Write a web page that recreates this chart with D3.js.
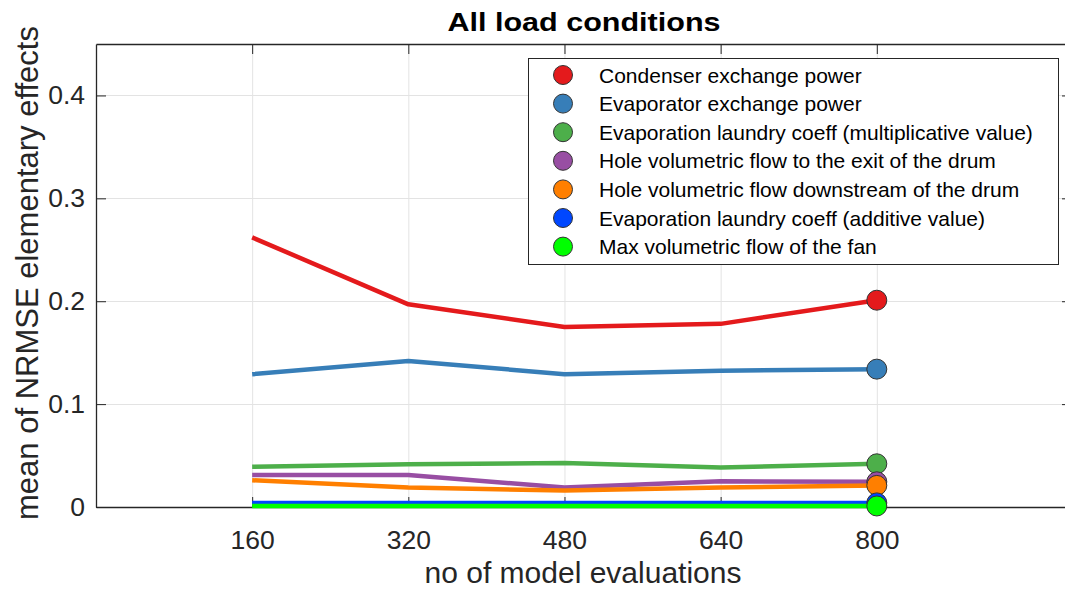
<!DOCTYPE html>
<html>
<head>
<meta charset="utf-8">
<script src="https://cdn.jsdelivr.net/npm/d3@7"></script>
<style>
  html, body { margin: 0; padding: 0; background: #fff; overflow: hidden; }
  svg { display: block; font-family: "Liberation Sans", Arial, sans-serif; }
</style>
</head>
<body>
<svg id="chart" width="1065" height="590"></svg>
<script>
// Number of model evaluations (x positions)
const evaluations = [160, 320, 480, 640, 800];

// Series names (legend order)
const seriesNames = [
  "Condenser exchange power",
  "Evaporator exchange power",
  "Evaporation laundry coeff (multiplicative value)",
  "Hole volumetric flow to the exit of the drum",
  "Hole volumetric flow downstream of the drum",
  "Evaporation laundry coeff (additive value)",
  "Max volumetric flow of the fan"
];

// Mean NRMSE elementary effects for each series
const condenserPower   = [0.262, 0.197, 0.175, 0.178, 0.201];
const evaporatorPower  = [0.129, 0.142, 0.129, 0.1325, 0.134];
const laundryCoeffMult = [0.039, 0.0415, 0.0428, 0.0385, 0.042];
const holeFlowExit     = [0.031, 0.031, 0.019, 0.025, 0.0245];
const holeFlowDown     = [0.026, 0.019, 0.016, 0.019, 0.021];
const laundryCoeffAdd  = [0.004, 0.004, 0.004, 0.004, 0.004];
const fanMaxFlow       = [0.001, 0.001, 0.001, 0.001, 0.001];

const seriesColors = ["#e41a1c", "#377eb8", "#4daf4a", "#984ea3", "#ff7f00", "#0047ff", "#00ff00"];

const xTicks = [160, 320, 480, 640, 800];
const yTicks = [0, 0.1, 0.2, 0.3, 0.4];

const series = [condenserPower, evaporatorPower, laundryCoeffMult, holeFlowExit,
                holeFlowDown, laundryCoeffAdd, fanMaxFlow].map((vals, i) => ({
  name: seriesNames[i], color: seriesColors[i], values: vals
}));

const svg = d3.select("#chart");
const margin = { left: 96, right: 1072, top: 44, bottom: 507 };
const axisColor = "#262626";

const x = d3.scaleLinear().domain([0, 1000]).range([margin.left, margin.right]);
const y = d3.scaleLinear().domain([0, 0.45]).range([margin.bottom, margin.top]);

// Grid
const grid = svg.append("g").attr("stroke", "#e3e3e3").attr("stroke-width", 1);
xTicks.forEach(t => grid.append("line")
  .attr("x1", x(t) + 0.5).attr("x2", x(t) + 0.5)
  .attr("y1", margin.top).attr("y2", margin.bottom));
yTicks.forEach(t => grid.append("line")
  .attr("x1", margin.left).attr("x2", margin.right)
  .attr("y1", Math.round(y(t)) + 0.5).attr("y2", Math.round(y(t)) + 0.5));

// Axes (ticks point inward, box on all four sides)
const tickLen = 10;
const xAxisB = d3.axisBottom(x).tickValues(xTicks).tickSizeInner(-tickLen).tickSizeOuter(0).tickPadding(23);
const xAxisT = d3.axisTop(x).tickValues(xTicks).tickSizeInner(-tickLen).tickSizeOuter(0).tickFormat("");
const yAxisL = d3.axisLeft(y).tickValues(yTicks).tickSizeInner(-tickLen).tickSizeOuter(0).tickPadding(11)
  .tickFormat(d => d === 0 ? "0" : d3.format(".1f")(d));
const yAxisR = d3.axisRight(y).tickValues(yTicks).tickSizeInner(-tickLen).tickSizeOuter(0).tickFormat("");

function styleAxis(g) {
  g.select(".domain").attr("stroke", axisColor).attr("stroke-width", 1.3);
  g.selectAll(".tick line").attr("stroke", axisColor).attr("stroke-width", 1);
  g.selectAll(".tick text").attr("fill", axisColor).style("font-size", "26.5px")
    .style("font-family", "'Liberation Sans', Arial, sans-serif");
}

svg.append("g").attr("transform", `translate(0,${margin.bottom})`).call(xAxisB).call(styleAxis);
svg.append("g").attr("transform", `translate(0,${margin.top})`).call(xAxisT).call(styleAxis);
svg.append("g").attr("transform", `translate(${margin.left},0)`).call(yAxisL).call(styleAxis);
svg.append("g").attr("transform", `translate(${margin.right},0)`).call(yAxisR).call(styleAxis);

// Series lines and end markers
const line = d3.line().x((d, i) => x(evaluations[i])).y(d => y(d));
series.forEach(s => {
  svg.append("path").datum(s.values)
    .attr("d", line).attr("fill", "none")
    .attr("stroke", s.color).attr("stroke-width", 4.5)
    .attr("stroke-linejoin", "round");
  const last = s.values.length - 1;
  svg.append("circle")
    .attr("cx", x(evaluations[last])).attr("cy", y(s.values[last]))
    .attr("r", 10).attr("fill", s.color)
    .attr("stroke", "#333").attr("stroke-width", 1);
});

// Title and axis labels
svg.append("text").attr("x", (margin.left + margin.right) / 2).attr("y", 31)
  .attr("text-anchor", "middle").attr("font-weight", "bold")
  .attr("textLength", 273).attr("lengthAdjust", "spacingAndGlyphs")
  .style("font-size", "25px").attr("fill", "#000").text("All load conditions");

svg.append("text").attr("x", 583).attr("y", 583)
  .attr("text-anchor", "middle").style("font-size", "30px").attr("fill", axisColor)
  .text("no of model evaluations");

svg.append("text")
  .attr("transform", `translate(38,273) rotate(-90)`)
  .attr("text-anchor", "middle").style("font-size", "31px").attr("fill", axisColor)
  .text("mean of NRMSE elementary effects");

// Legend
const legend = svg.append("g");
legend.append("rect").attr("x", 528.5).attr("y", 58.5).attr("width", 530).attr("height", 206)
  .attr("fill", "#fff").attr("stroke", axisColor).attr("stroke-width", 1);
series.forEach((s, i) => {
  const cy = 75 + i * 28.6;
  legend.append("circle").attr("cx", 563).attr("cy", cy).attr("r", 9.5)
    .attr("fill", s.color).attr("stroke", "#333").attr("stroke-width", 1);
  legend.append("text").attr("x", 599).attr("y", cy + 7.5)
    .style("font-size", "21px").attr("fill", "#000").text(s.name);
});
</script>
</body>
</html>
